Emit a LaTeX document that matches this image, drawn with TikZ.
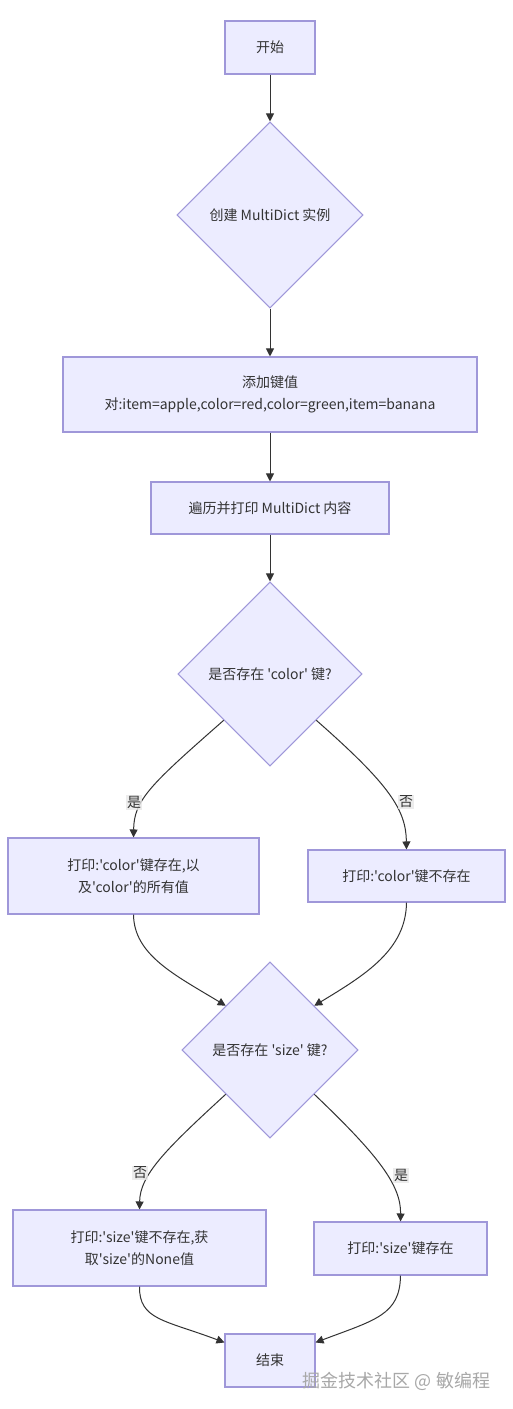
\documentclass[tikz,border=0pt]{standalone}
\usepackage{fontspec}
\newfontfamily\mmfont{Noto Sans CJK SC}
\usetikzlibrary{shapes.geometric,arrows.meta}
\definecolor{mmfill}{HTML}{ECECFF}
\definecolor{mmstroke}{HTML}{9F97D9}
\definecolor{mmline}{HTML}{333333}
\definecolor{mmtext}{HTML}{333333}
\definecolor{mmlbl}{HTML}{E8E8E8}
\definecolor{wmark}{HTML}{A8A8A8}
\begin{document}
\begin{tikzpicture}[x=0.75pt,y=-0.75pt,
  box/.style={draw=mmstroke, fill=mmfill, line width=0.8pt, inner sep=0pt, align=center,
    font=\mmfont\fontsize{10.5pt}{16.5pt}\selectfont, text=mmtext},
  dec/.style={box, shape=diamond, aspect=1},
  arr/.style={draw=mmline, line width=0.75pt, -{Triangle[length=6pt,width=6pt]}},
  lbl/.style={fill=mmlbl, fill opacity=0.8, text opacity=1, inner sep=1pt, text=mmtext,
    font=\mmfont\fontsize{10.5pt}{12pt}\selectfont}]
\useasboundingbox (0,0) rectangle (513,1409);
\fill[white] (0,0) rectangle (513,1409);

\node[box, minimum width=67.5pt, minimum height=39.75pt] (s) at (270,47.5) {开始};
\node[dec, minimum width=139.5pt, minimum height=139.5pt] (d1) at (270,215) {创建 MultiDict 实例};
\node[box, minimum width=310.5pt, minimum height=56.25pt] (b3) at (270,394.5) {添加键值\\对:item=apple,color=red,color=green,item=banana};
\node[box, minimum width=178.5pt, minimum height=39pt] (b4) at (270,508) {遍历并打印 MultiDict 内容};
\node[dec, minimum width=138pt, minimum height=138pt] (d2) at (270,674) {是否存在 'color' 键?};
\node[box, minimum width=188.25pt, minimum height=57pt] (by) at (133.5,876) {打印:'color'键存在,以\\及'color'的所有值};
\node[box, minimum width=147.75pt, minimum height=39pt] (bn) at (406.5,876) {打印:'color'键不存在};
\node[dec, minimum width=132pt, minimum height=132pt] (d3) at (270,1050) {是否存在 'size' 键?};
\node[box, minimum width=189.75pt, minimum height=57pt] (cn) at (139.5,1248) {打印:'size'键不存在,获\\取'size'的None值};
\node[box, minimum width=129.75pt, minimum height=39.75pt] (cy) at (400.5,1248.5) {打印:'size'键存在};
\node[box, minimum width=67.5pt, minimum height=39.75pt] (e) at (270,1360.5) {结束};

\draw[arr] (s.south) -- (d1.north);
\draw[arr] (d1.south) -- (b3.north);
\draw[arr] (b3.south) -- (b4.north);
\draw[arr] (b4.south) -- (d2.north);
\draw[arr] (d2.south west) .. controls (150,785) and (134,800) .. (by.north);
\draw[arr] (d2.south east) .. controls (390,785) and (406,810) .. (bn.north);
\draw[arr] (by.south) .. controls (134,955) and (175,975) .. (d3.north west);
\draw[arr] (bn.south) .. controls (406,950) and (365,975) .. (d3.north east);
\draw[arr] (d3.south west) .. controls (165,1150) and (140,1175) .. (cn.north);
\draw[arr] (d3.south east) .. controls (378,1155) and (401,1185) .. (cy.north);
\draw[arr] (cn.south) .. controls (139,1320) and (165,1320) .. ([yshift=-6.75pt]e.north west);
\draw[arr] (cy.south) .. controls (400,1315) and (375,1320) .. ([yshift=-6.75pt]e.north east);

\node[lbl] (l1) at (134,802) {是};
\node[lbl] (l2) at (406,802) {否};
\node[lbl] (l3) at (140,1173) {否};
\node[lbl] (l4) at (401,1175) {是};

\node[text=wmark, font=\mmfont\fontsize{13.5pt}{15pt}\selectfont, inner sep=0pt] (wm) at (396.5,1381) {掘金技术社区 @ 敏编程};
\end{tikzpicture}
\end{document}
